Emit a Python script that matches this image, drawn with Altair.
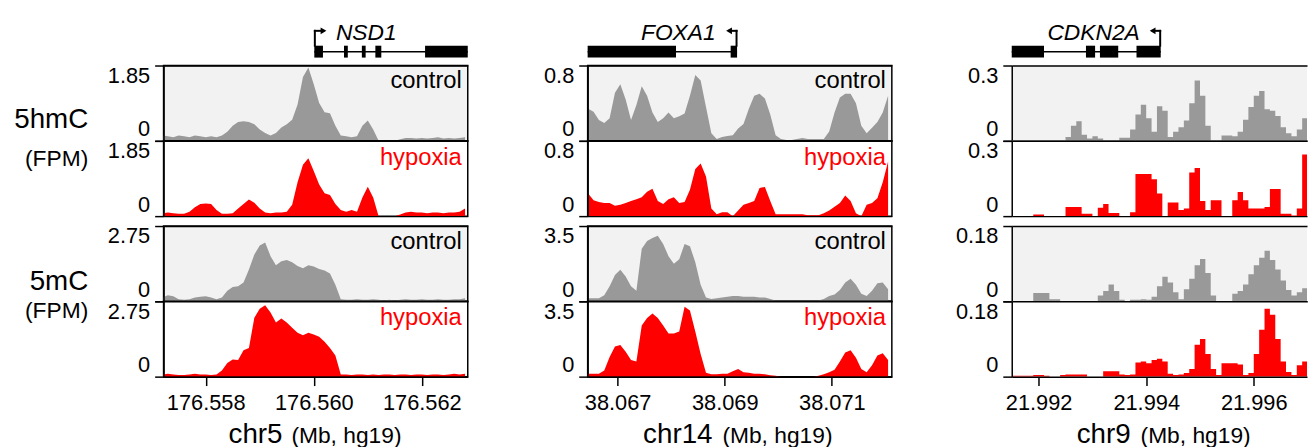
import altair as alt
import pandas as pd

FONT = "Liberation Sans"
GRAY = "#999999"
RED = "#ff0000"
BG = "#f2f2f2"

# ---------------- genomic positions (Mb, hg19) ----------------
POS_NSD1 = [176.5572, 176.5573, 176.5574, 176.5575, 176.5576, 176.5577, 176.5578, 176.5579,
            176.5580, 176.5581, 176.5582, 176.5583, 176.5584, 176.5585, 176.5586, 176.5587, 176.5588, 176.5589,
            176.5590, 176.5591, 176.5592, 176.5593, 176.5594, 176.5595, 176.5596, 176.5597, 176.5598, 176.5599,
            176.5600, 176.5601, 176.5602, 176.5603, 176.5604, 176.5605, 176.5606, 176.5607, 176.5608, 176.5609,
            176.5610, 176.5611, 176.5612, 176.5613, 176.5614, 176.5615, 176.5616, 176.5617, 176.5618, 176.5619,
            176.5620, 176.5621, 176.5622, 176.5623, 176.5624, 176.5625, 176.5626, 176.5627, 176.5628]
POS_FOXA1 = [38.06645, 38.06655, 38.06665, 38.06675, 38.06685, 38.06695,
             38.06705, 38.06715, 38.06725, 38.06735, 38.06745, 38.06755, 38.06765, 38.06775, 38.06785, 38.06795,
             38.06805, 38.06815, 38.06825, 38.06835, 38.06845, 38.06855, 38.06865, 38.06875, 38.06885, 38.06895,
             38.06905, 38.06915, 38.06925, 38.06935, 38.06945, 38.06955, 38.06965, 38.06975, 38.06985, 38.06995,
             38.07005, 38.07015, 38.07025, 38.07035, 38.07045, 38.07055, 38.07065, 38.07075, 38.07085, 38.07095,
             38.07105, 38.07115, 38.07125, 38.07135, 38.07145, 38.07155, 38.07165, 38.07175, 38.07185, 38.07195,
             38.07205]
POS_CDKN2A = [21.9915, 21.9916, 21.9917, 21.9918, 21.9919,
              21.9920, 21.9921, 21.9922, 21.9923, 21.9924, 21.9925, 21.9926, 21.9927, 21.9928, 21.9929,
              21.9930, 21.9931, 21.9932, 21.9933, 21.9934, 21.9935, 21.9936, 21.9937, 21.9938, 21.9939,
              21.9940, 21.9941, 21.9942, 21.9943, 21.9944, 21.9945, 21.9946, 21.9947, 21.9948, 21.9949,
              21.9950, 21.9951, 21.9952, 21.9953, 21.9954, 21.9955, 21.9956, 21.9957, 21.9958, 21.9959,
              21.9960, 21.9961, 21.9962, 21.9963, 21.9964, 21.9965, 21.9966, 21.9967, 21.9968, 21.9969,
              21.9970]

# ---------------- signal (FPM) ----------------
NSD1_5HMC_CONTROL = [0.13, 0.11, 0.09, 0.13, 0.11, 0.09, 0.13, 0.11, 0.09, 0.11, 0.09, 0.13, 0.22, 0.37, 0.46,
                     0.48, 0.46, 0.41, 0.28, 0.19, 0.13, 0.19, 0.33, 0.41, 0.52, 0.89, 1.57, 1.80, 1.39, 0.93,
                     0.70, 0.68, 0.37, 0.13, 0.11, 0.09, 0.11, 0.37, 0.50, 0.28, 0, 0, 0, 0, 0.04, 0.07, 0.07,
                     0.06, 0.07, 0.06, 0.07, 0.09, 0.06, 0.07, 0.06, 0.07, 0.09]
NSD1_5HMC_HYPOXIA = [0.07, 0.09, 0.07, 0.06, 0.06, 0.11, 0.22, 0.30, 0.31, 0.30, 0.15, 0.06, 0.06, 0.07, 0.19,
                     0.30, 0.41, 0.33, 0.19, 0.09, 0.07, 0.09, 0.09, 0.11, 0.28, 0.83, 1.26, 1.42, 1.11, 0.78,
                     0.56, 0.52, 0.30, 0.15, 0.11, 0.15, 0.11, 0.46, 0.72, 0.46, 0, 0, 0, 0, 0.04, 0.09, 0.11,
                     0.09, 0.09, 0.07, 0.09, 0.09, 0.07, 0.09, 0.09, 0.11, 0.19]
NSD1_5MC_CONTROL = [0.14, 0.22, 0.19, 0.08, 0.06, 0.08, 0.14, 0.17, 0.19, 0.14, 0.08, 0.14, 0.39, 0.52, 0.55,
                    0.69, 1.16, 1.71, 2.04, 2.15, 1.65, 1.32, 1.46, 1.51, 1.43, 1.29, 1.21, 1.32, 1.27, 1.18,
                    1.13, 1.02, 0.61, 0.08, 0.06, 0.06, 0.08, 0.06, 0.06, 0.08, 0.06, 0.03, 0.06, 0.03, 0.06,
                    0.08, 0.06, 0.06, 0.08, 0.06, 0.06, 0.08, 0.06, 0.06, 0.08, 0.08, 0.11]
NSD1_5MC_HYPOXIA = [0.08, 0.11, 0.08, 0.06, 0.06, 0.08, 0.11, 0.08, 0.08, 0.06, 0.08, 0.22, 0.50, 0.63, 0.61,
                    0.96, 1.05, 2.15, 2.48, 2.61, 2.34, 1.98, 2.12, 1.98, 1.79, 1.60, 1.51, 1.60, 1.54, 1.46,
                    1.27, 1.05, 0.77, 0.08, 0.08, 0.06, 0.08, 0.08, 0.06, 0.08, 0.06, 0.08, 0.08, 0.06, 0.08,
                    0.08, 0.06, 0.08, 0.08, 0.06, 0.08, 0.08, 0.06, 0.08, 0.11, 0.08, 0.11]

FOXA1_5HMC_CONTROL = [0.34, 0.31, 0.22, 0.19, 0.24, 0.51, 0.60, 0.44, 0.22, 0.38, 0.58, 0.48, 0.30, 0.20, 0.24,
                      0.30, 0.24, 0.26, 0.29, 0.48, 0.70, 0.64, 0.36, 0.08, 0.02, 0.04, 0.05, 0.06, 0.13, 0.18,
                      0.34, 0.48, 0.50, 0.45, 0.28, 0.06, 0.02, 0.01, 0.01, 0.02, 0.03, 0.02, 0.02, 0.02, 0.02,
                      0.10, 0.30, 0.46, 0.50, 0.50, 0.40, 0.16, 0.08, 0.14, 0.20, 0.30, 0.48]
FOXA1_5HMC_HYPOXIA = [0.24, 0.17, 0.15, 0.14, 0.14, 0.11, 0.12, 0.14, 0.16, 0.18, 0.20, 0.26, 0.29, 0.16, 0.13,
                      0.18, 0.20, 0.14, 0.15, 0.28, 0.50, 0.56, 0.42, 0.08, 0.02, 0.04, 0.04, 0.00, 0.06, 0.12,
                      0.14, 0.16, 0.30, 0.31, 0.16, 0.02, 0.02, 0.02, 0.02, 0.02, 0.02, 0.01, 0.01, 0.01, 0.03,
                      0.06, 0.10, 0.14, 0.22, 0.16, 0.03, 0.00, 0.12, 0.14, 0.19, 0.36, 0.58]
FOXA1_5MC_CONTROL = [0.14, 0.14, 0.14, 0.28, 0.70, 1.23, 1.47, 1.16, 0.70, 0.49, 2.45, 2.80, 2.94, 3.05, 2.66,
                     2.10, 1.75, 1.96, 2.66, 2.56, 1.82, 0.77, 0.18, 0.11, 0.14, 0.18, 0.21, 0.25, 0.25, 0.21,
                     0.21, 0.21, 0.18, 0.18, 0.11, 0.04, 0.04, 0.04, 0.04, 0.04, 0.04, 0.04, 0.04, 0.04, 0.11,
                     0.25, 0.32, 0.53, 0.88, 1.05, 0.77, 0.35, 0.25, 0.49, 0.84, 0.88, 0.56]
FOXA1_5MC_HYPOXIA = [0.14, 0.14, 0.14, 0.28, 0.91, 1.40, 1.47, 1.16, 0.77, 0.70, 2.38, 2.73, 2.94, 2.73, 2.38,
                     2.00, 2.00, 2.10, 3.25, 3.08, 2.10, 1.05, 0.18, 0.11, 0.11, 0.14, 0.14, 0.25, 0.35, 0.21,
                     0.18, 0.14, 0.14, 0.11, 0.07, 0.04, 0, 0, 0, 0, 0, 0, 0, 0.04, 0.11,
                     0.21, 0.32, 0.70, 1.12, 1.23, 0.88, 0.35, 0.21, 0.53, 0.98, 1.09, 0.77]

CDKN2A_5HMC_CONTROL = [0, 0, 0, 0, 0, 0, 0, 0, 0, 0,
                       0.015, 0.06, 0.078, 0.024, 0.009, 0.018, 0.009, 0, 0, 0,
                       0.012, 0.012, 0.045, 0.105, 0.144, 0.09, 0.036, 0.138, 0.12, 0.015,
                       0.036, 0.054, 0.081, 0.15, 0.24, 0.18, 0.06, 0, 0, 0.021,
                       0.021, 0.018, 0.036, 0.084, 0.135, 0.18, 0.198, 0.126, 0.12, 0.099,
                       0.054, 0.03, 0.018, 0.045, 0.09, 0.108]
CDKN2A_5HMC_HYPOXIA = [0, 0, 0, 0, 0.006, 0.006, 0, 0, 0, 0,
                       0.036, 0.036, 0.036, 0.009, 0.009, 0, 0.033, 0.048, 0.012, 0.012,
                       0, 0, 0.015, 0.168, 0.168, 0.168, 0.147, 0.09, 0, 0.054,
                       0.054, 0.024, 0.03, 0.174, 0.192, 0.06, 0.024, 0.063, 0.063, 0,
                       0, 0.063, 0.096, 0.063, 0.03, 0.03, 0.03, 0.036, 0.108, 0.108,
                       0.009, 0.009, 0.003, 0.03, 0.246, 0.294]
CDKN2A_5MC_CONTROL = [0, 0, 0, 0, 0.02, 0.02, 0.02, 0.005, 0.005, 0,
                      0, 0, 0, 0, 0, 0, 0.014, 0.025, 0.04, 0.025,
                      0.004, 0, 0.004, 0.004, 0.005, 0.004, 0.011, 0.036, 0.059, 0.045,
                      0.022, 0.005, 0.029, 0.054, 0.086, 0.101, 0.068, 0.014, 0, 0,
                      0, 0.018, 0.025, 0.04, 0.065, 0.086, 0.104, 0.121, 0.099, 0.076,
                      0.05, 0.027, 0.014, 0.022, 0.031, 0.029]
CDKN2A_5MC_HYPOXIA = [0.002, 0.002, 0.002, 0.002, 0.004, 0.004, 0.002, 0, 0, 0.004,
                      0.005, 0.005, 0.005, 0.005, 0, 0, 0, 0.013, 0.013, 0.013,
                      0.005, 0.004, 0.005, 0.034, 0.036, 0.032, 0.04, 0.043, 0.036, 0.007,
                      0.004, 0.005, 0.009, 0.018, 0.076, 0.09, 0.054, 0.018, 0.004, 0.032,
                      0.032, 0.032, 0.029, 0.004, 0.009, 0.054, 0.112, 0.162, 0.148, 0.09,
                      0.036, 0.011, 0.004, 0.027, 0.036, 0.045]

# ---------------- axis maxima (FPM) and view windows ----------------
YMAX_5HMC = [1.85, 0.8, 0.3]
YMAX_5MC = [2.75, 3.5, 0.18]
DOMAINS = [[176.55722, 176.56285], [38.06644, 38.07212], [21.99150, 21.99699]]
XTICKS = [[176.558, 176.560, 176.562], [38.067, 38.069, 38.071], [21.992, 21.994, 21.996]]
CHROM = ["chr5", "chr14", "chr9"]

# ---------------- gene models ----------------
GENES = [
    dict(name="NSD1", ex_s=[176.56001, 176.56056, 176.56089, 176.56114, 176.56206],
         ex_e=[176.56017, 176.56063, 176.56096, 176.56125, 176.56285],
         tss=176.56002, head=176.56018, label=176.56041, strand="+"),
    dict(name="FOXA1", ex_s=[38.06644, 38.06911], ex_e=[38.06809, 38.06923],
         tss=38.06922, head=38.06908, label=38.06883, strand="-"),
    dict(name="CDKN2A", ex_s=[21.99150, 21.99288, 21.99314, 21.99382],
         ex_e=[21.99210, 21.99305, 21.99348, 21.99427],
         tss=21.99426, head=21.99412, label=21.99388, strand="-"),
]

WIDTHS = [307, 307, 298]
TRACK_H = 76
LAB_W = 32


def xenc(field, i, axis=None):
    return alt.X(field, scale=alt.Scale(domain=DOMAINS[i], nice=False, zero=False), axis=axis)


def blank(w, h):
    return alt.Chart(pd.DataFrame({"a": [0]})).mark_point(opacity=0).encode(
        x=alt.value(0), y=alt.value(0)
    ).properties(width=w, height=h, view=alt.ViewBackground(stroke="transparent", fill="transparent"))


def text_layer(txt, x, y, size, align="left", color="black", style="normal"):
    return alt.Chart(pd.DataFrame({"t": [txt]})).mark_text(
        align=align, baseline="alphabetic", fontSize=size, font=FONT, color=color, fontStyle=style
    ).encode(x=alt.value(x), y=alt.value(y), text="t:N")


def gene_row(i):
    g = GENES[i]
    ex = pd.DataFrame({"s": g["ex_s"], "e": g["ex_e"]})
    rects = alt.Chart(ex).mark_rect(color="black").encode(
        x=xenc("s:Q", i), x2="e:Q", y=alt.value(32), y2=alt.value(44))
    intron = alt.Chart(pd.DataFrame({"s": [min(g["ex_s"])], "e": [max(g["ex_e"])]})).mark_rule(
        color="black", strokeWidth=1.5).encode(x=xenc("s:Q", i), x2="e:Q", y=alt.value(38))
    arrow_df = pd.DataFrame({"t": [g["tss"]], "h": [g["head"]]})
    vert = alt.Chart(arrow_df).mark_rule(color="black", strokeWidth=2, strokeCap="square").encode(
        x=xenc("t:Q", i), y=alt.value(17), y2=alt.value(32))
    horiz = alt.Chart(arrow_df).mark_rule(color="black", strokeWidth=2, strokeCap="square").encode(
        x=xenc("t:Q", i), x2="h:Q", y=alt.value(17))
    head = alt.Chart(arrow_df).mark_point(
        shape="triangle-right" if g["strand"] == "+" else "triangle-left",
        filled=True, size=45, color="black", opacity=1).encode(x=xenc("h:Q", i), y=alt.value(17))
    name = alt.Chart(pd.DataFrame({"p": [g["label"]], "n": [g["name"]]})).mark_text(
        align="left" if g["strand"] == "+" else "right", baseline="alphabetic",
        fontSize=23, fontStyle="italic", font=FONT, color="black").encode(
        x=xenc("p:Q", i), y=alt.value(26), text="n:N")
    return alt.layer(intron, rects, vert, horiz, head, name).properties(
        width=WIDTHS[i], height=52, view=alt.ViewBackground(stroke="transparent", fill="transparent"))


def yaxis(ymax):
    return alt.Axis(values=[0, ymax], format=".3~g", labelFlush=True, grid=True, gridColor="black",
                    gridWidth=1.5, domain=True, domainColor="black", domainWidth=1.5, ticks=True,
                    tickSize=9, tickColor="black", tickWidth=1.5, labelFontSize=22, labelFont=FONT,
                    labelColor="black", labelPadding=5, title=None, zindex=1)


def track(i, pos, vals, ymax, kind, bottom=False):
    df = pd.DataFrame({"pos": pos, "val": vals})
    xaxis = None
    if bottom:
        xaxis = alt.Axis(values=XTICKS[i], format=".3f", grid=False, domain=False, ticks=True, tickSize=9,
                         tickColor="black", tickWidth=1.5, labelFontSize=22, labelFont=FONT,
                         labelColor="black", labelPadding=7, labelFlush=False, title=None, zindex=1)
    area = alt.Chart(df).mark_area(
        color=GRAY if kind == "control" else RED,
        interpolate="step-after" if i == 2 else "linear", clip=True, opacity=1
    ).encode(
        x=xenc("pos:Q", i, xaxis),
        y=alt.Y("val:Q", scale=alt.Scale(domain=[0, ymax], nice=False, zero=True), axis=yaxis(ymax)),
    )
    layers = [area]
    if i < 2:
        if kind == "control":
            layers.append(text_layer("control", WIDTHS[i] - 6, 23, 24, align="right"))
        else:
            layers.append(text_layer("hypoxia", WIDTHS[i] - 6, 24, 24, align="right", color=RED))
    if bottom:
        split = [(120, 129), (126, 136), (120, 130)][i]
        layers.append(text_layer(CHROM[i], split[0], 143, 28, align="right"))
        layers.append(text_layer("(Mb, hg19)", split[1], 143, 23, align="left"))
    edge = "transparent" if i == 2 else "black"
    return alt.layer(*layers).properties(
        width=WIDTHS[i], height=TRACK_H,
        view=alt.ViewBackground(fill=BG if kind == "control" else "white", stroke=edge, strokeWidth=1.5))


def side_label(big, small, y_big, y_small):
    return alt.layer(
        text_layer(big, 77, y_big, 28, align="right"),
        text_layer(small, 77, y_small, 23, align="right"),
    ).properties(width=LAB_W, height=TRACK_H, view=alt.ViewBackground(stroke="transparent", fill="transparent"))


POS = [POS_NSD1, POS_FOXA1, POS_CDKN2A]
HMC_C = [NSD1_5HMC_CONTROL, FOXA1_5HMC_CONTROL, CDKN2A_5HMC_CONTROL]
HMC_H = [NSD1_5HMC_HYPOXIA, FOXA1_5HMC_HYPOXIA, CDKN2A_5HMC_HYPOXIA]
MC_C = [NSD1_5MC_CONTROL, FOXA1_5MC_CONTROL, CDKN2A_5MC_CONTROL]
MC_H = [NSD1_5MC_HYPOXIA, FOXA1_5MC_HYPOXIA, CDKN2A_5MC_HYPOXIA]

cells = [blank(LAB_W, 52)] + [gene_row(i) for i in range(3)]
cells += [side_label("5hmC", "(FPM)", 63, 101)] + [track(i, POS[i], HMC_C[i], YMAX_5HMC[i], "control") for i in range(3)]
cells += [blank(LAB_W, TRACK_H)] + [track(i, POS[i], HMC_H[i], YMAX_5HMC[i], "hypoxia") for i in range(3)]
cells += [blank(LAB_W, 10)] + [blank(WIDTHS[i], 10) for i in range(3)]
cells += [side_label("5mC", "(FPM)", 65, 93)] + [track(i, POS[i], MC_C[i], YMAX_5MC[i], "control") for i in range(3)]
cells += [blank(LAB_W, TRACK_H)] + [track(i, POS[i], MC_H[i], YMAX_5MC[i], "hypoxia", bottom=True) for i in range(3)]

chart = alt.concat(*cells, columns=4, spacing={"row": 0, "column": 121}, bounds="flush").properties(
    padding=0
).configure_view(stroke="transparent")

chart.save("out.html", embed_options={"renderer": "svg", "actions": False})
